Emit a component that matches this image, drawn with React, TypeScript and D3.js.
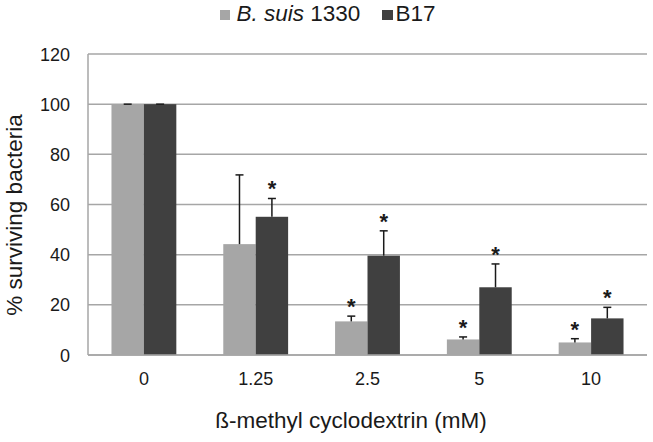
import React from "react";
import * as d3 from "d3";

const categories = ["0", "1.25", "2.5", "5", "10"];
const seriesNames = ["B. suis 1330", "B17"];
const suisValues = [100, 44.2, 13.4, 6.2, 5.0];
const suisErrors = [0, 27.6, 2.1, 1.0, 1.5];
const suisSig = [false, false, true, true, true];
const b17Values = [100, 55.1, 39.6, 27.0, 14.6];
const b17Errors = [0, 7.3, 9.9, 9.3, 4.4];
const b17Sig = [false, true, true, true, true];
const yTicks = [0, 20, 40, 60, 80, 100, 120];

const W = 653;
const H = 442;
const plot = { left: 88, right: 647, top: 54, bottom: 355 };
const colors = ["#a6a6a6", "#404040"];
const FONT = "Liberation Sans, Arial, sans-serif";

export default function App() {
  const x = d3
    .scaleBand<string>()
    .domain(categories)
    .range([plot.left, plot.right])
    .paddingInner(0.42)
    .paddingOuter(0.21);
  const x1 = d3.scaleBand<string>().domain(seriesNames).range([0, x.bandwidth()]);
  const y = d3.scaleLinear().domain([0, 120]).range([plot.bottom, plot.top]);

  const series = [
    { name: seriesNames[0], values: suisValues, errors: suisErrors, sig: suisSig, color: colors[0] },
    { name: seriesNames[1], values: b17Values, errors: b17Errors, sig: b17Sig, color: colors[1] },
  ];

  return (
    <svg
      width={W}
      height={H}
      style={{ position: "absolute", left: 0, top: 0, background: "#fff" }}
      fontFamily={FONT}
    >
      {yTicks.map((t) => (
        <line
          key={"g" + t}
          x1={plot.left}
          x2={plot.right}
          y1={y(t)}
          y2={y(t)}
          stroke="#a6a6a6"
          strokeWidth={1.5}
        />
      ))}
      <line x1={plot.left} x2={plot.left} y1={y(120)} y2={y(0)} stroke="#a6a6a6" strokeWidth={1.5} />
      {yTicks.map((t) => (
        <text key={"yt" + t} x={70} y={y(t) + 6.5} textAnchor="end" fontSize={18} fill="#1a1a1a">
          {t}
        </text>
      ))}
      {series.map((s) =>
        categories.map((c, i) => {
          const bx = (x(c) as number) + (x1(s.name) as number);
          const bw = x1.bandwidth();
          const cx = bx + bw / 2;
          const top = y(s.values[i]);
          const etop = y(s.values[i] + s.errors[i]);
          return (
            <g key={s.name + c}>
              <rect x={bx} y={top} width={bw} height={y(0) - top} fill={s.color} />
              <line x1={cx} x2={cx} y1={top} y2={etop} stroke="#1a1a1a" strokeWidth={1.5} />
              <line x1={cx - 4} x2={cx + 4} y1={etop} y2={etop} stroke="#1a1a1a" strokeWidth={1.5} />
              {s.sig[i] && (
                <text x={cx} y={etop - 2} textAnchor="middle" fontSize={22} fontWeight="bold" fill="#1a1a1a">
                  *
                </text>
              )}
            </g>
          );
        })
      )}
      <line x1={plot.left} x2={plot.right} y1={y(0)} y2={y(0)} stroke="#a6a6a6" strokeWidth={1.5} />
      {categories.map((c) => (
        <text
          key={"xt" + c}
          x={(x(c) as number) + x.bandwidth() / 2}
          y={384.5}
          textAnchor="middle"
          fontSize={18}
          fill="#1a1a1a"
        >
          {c}
        </text>
      ))}
      <text x={351} y={428} textAnchor="middle" fontSize={22.5} fill="#1a1a1a">
        ß-methyl cyclodextrin (mM)
      </text>
      <text
        transform={`translate(21.5, 215) rotate(-90)`}
        textAnchor="middle"
        fontSize={22.5}
        fill="#1a1a1a"
      >
        % surviving bacteria
      </text>
      <rect x={220} y={10} width={10} height={10} fill={colors[0]} />
      <text x={236.5} y={21} fontSize={22.5} fill="#1a1a1a">
        <tspan fontStyle="italic">B. suis</tspan> 1330
      </text>
      <rect x={382} y={10} width={11} height={10} fill={colors[1]} />
      <text x={395.5} y={21} fontSize={22.5} fill="#1a1a1a">
        {seriesNames[1]}
      </text>
    </svg>
  );
}
